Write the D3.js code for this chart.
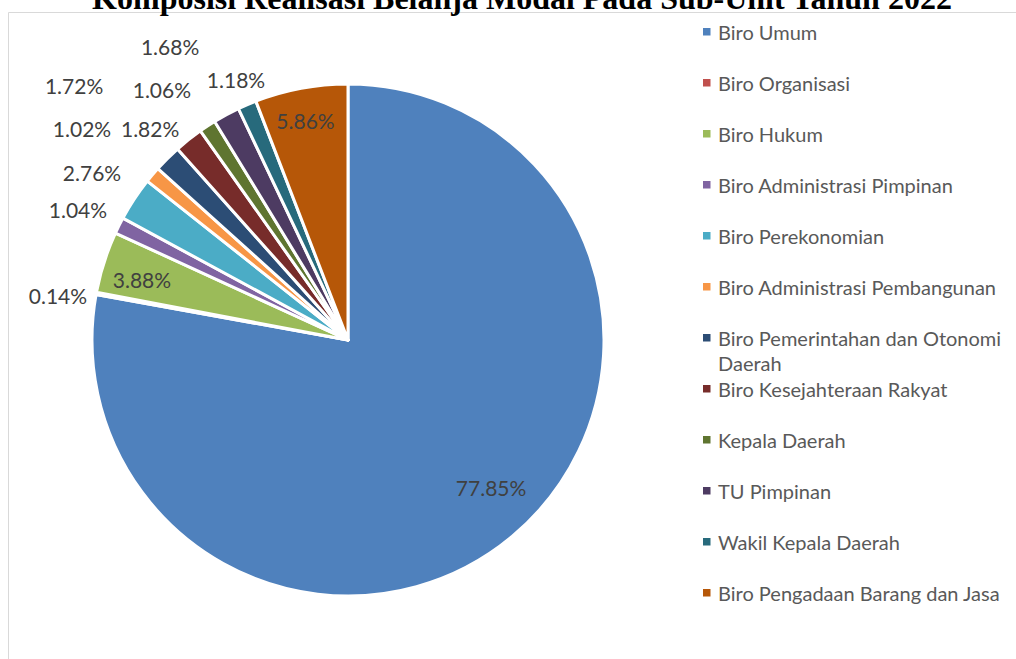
<!DOCTYPE html>
<html>
<head>
<meta charset="utf-8">
<script src="https://cdn.jsdelivr.net/npm/d3@7"></script>
<style>
  html, body { margin: 0; padding: 0; background: #fff; overflow: hidden; }
  svg { display: block; }
</style>
</head>
<body>
<svg id="chart" width="1016" height="659"></svg>
<script>
// Sub-units and their share of realised capital spending (%)
const units = [
  "Biro Umum",
  "Biro Organisasi",
  "Biro Hukum",
  "Biro Administrasi Pimpinan",
  "Biro Perekonomian",
  "Biro Administrasi Pembangunan",
  "Biro Pemerintahan dan Otonomi Daerah",
  "Biro Kesejahteraan Rakyat",
  "Kepala Daerah",
  "TU Pimpinan",
  "Wakil Kepala Daerah",
  "Biro Pengadaan Barang dan Jasa"
];
const shares = [77.85, 0.14, 3.88, 1.04, 2.76, 1.02, 1.72, 1.82, 1.06, 1.68, 1.18, 5.86];

const palette = [
  "#4F81BD", "#C0504D", "#9BBB59", "#8064A2", "#4BACC6", "#F79646",
  "#2C4D75", "#772C2A", "#5F7530", "#4D3B62", "#276A7C", "#B65708"
];

// Legend entries that wrap onto a second line
const legendLines = [
  ["Biro Umum"], ["Biro Organisasi"], ["Biro Hukum"], ["Biro Administrasi Pimpinan"],
  ["Biro Perekonomian"], ["Biro Administrasi Pembangunan"],
  ["Biro Pemerintahan dan Otonomi", "Daerah"], ["Biro Kesejahteraan Rakyat"],
  ["Kepala Daerah"], ["TU Pimpinan"], ["Wakil Kepala Daerah"], ["Biro Pengadaan Barang dan Jasa"]
];

// Label anchor for each slice, in radius units from the pie centre
const labelAnchors = [
  [0.559, 0.578], [-1.133, -0.172], [-0.805, -0.238], [-1.055, -0.508],
  [-1.0, -0.656], [-1.039, -0.828], [-1.070, -0.996], [-0.773, -0.828],
  [-0.727, -0.977], [-0.695, -1.148], [-0.4375, -1.016], [-0.166, -0.859]
];

const svg = d3.select("#chart");
const W = 1016, H = 659;

// chart frame
svg.append("path")
  .attr("d", `M8.5,${H} V12.5 H${W}`)
  .attr("fill", "none")
  .attr("stroke", "#d9d9d9")
  .attr("stroke-width", 1);

// title
svg.append("text")
  .attr("x", 522)
  .attr("y", 9)
  .attr("text-anchor", "middle")
  .attr("font-family", "'Liberation Serif', 'Times New Roman', serif")
  .attr("font-weight", "bold")
  .attr("font-size", 32)
  .attr("fill", "#000")
  .text("Komposisi Realisasi Belanja Modal Pada Sub-Unit Tahun 2022");

const cx = 348, cy = 340, R = 256;
const data = units.map((u, i) => ({ unit: u, value: shares[i], i }));

const pie = d3.pie().value(d => d.value).sort(null);
const arc = d3.arc().innerRadius(0).outerRadius(R);
const color = d3.scaleOrdinal().domain(units).range(palette);

const g = svg.append("g").attr("transform", `translate(${cx},${cy})`);
const arcs = pie(data);

g.selectAll("path.slice")
  .data(arcs)
  .join("path")
  .attr("class", "slice")
  .attr("d", arc)
  .attr("fill", d => color(d.data.unit))
  .attr("stroke", "#fff")
  .attr("stroke-width", 3)
  .attr("stroke-linejoin", "round");

const labelFont = "Lato, 'Open Sans', sans-serif";
g.selectAll("text.pct")
  .data(arcs)
  .join("text")
  .attr("class", "pct")
  .attr("x", d => labelAnchors[d.data.i][0] * R)
  .attr("y", d => labelAnchors[d.data.i][1] * R)
  .attr("text-anchor", "middle")
  .attr("dominant-baseline", "central")
  .attr("font-family", labelFont)
  .attr("font-size", 21)
  .attr("fill", "#404040")
  .text(d => d.data.value.toFixed(2) + "%");

// legend
const legendX = 703, legendY0 = 32, legendStep = 51;
const lg = svg.append("g");
const item = lg.selectAll("g.item")
  .data(units)
  .join("g")
  .attr("class", "item")
  .attr("transform", (d, i) => `translate(${legendX},${legendY0 + i * legendStep})`);

item.append("rect")
  .attr("x", 0)
  .attr("y", -4)
  .attr("width", 7.5)
  .attr("height", 7.5)
  .attr("fill", d => color(d));

item.append("text")
  .attr("x", 15)
  .attr("y", 0)
  .attr("dominant-baseline", "central")
  .attr("font-family", labelFont)
  .attr("font-size", 20)
  .attr("fill", "#595959")
  .each(function(d, i) {
    const t = d3.select(this);
    legendLines[i].forEach((line, k) => {
      t.append("tspan")
        .attr("x", 15)
        .attr("dy", k === 0 ? 0 : 25)
        .text(line);
    });
  });
</script>
</body>
</html>
